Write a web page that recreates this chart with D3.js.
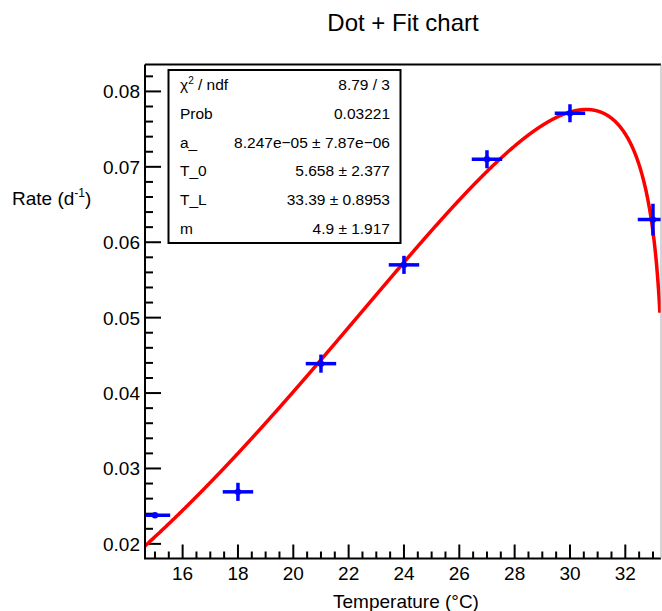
<!DOCTYPE html>
<html>
<head>
<meta charset="utf-8">
<script src="https://cdn.jsdelivr.net/npm/d3@7"></script>
<style>
  body { margin: 0; background: #fff; }
  text { font-family: "Liberation Sans", Arial, Helvetica, sans-serif; }
</style>
</head>
<body>
<div id="chart"></div>
<script>
const width = 662, height = 611;

// measured points
const temps = [15, 18, 21, 24, 27, 30, 33];
const rates = [0.0238, 0.0269, 0.0439, 0.0570, 0.0710, 0.0771, 0.0630];
const tempErr = [0.55, 0.55, 0.55, 0.55, 0.55, 0.55, 0.55];
const rateErr = [0.0003, 0.0012, 0.0012, 0.0012, 0.0012, 0.0012, 0.0021];

// fit result (Briere-like: a*T*(T-T_0)*(T_L-T)^(1/m))
const fitNames = ["a_", "T_0", "T_L", "m"];
const fitValues = [8.247e-05, 5.658, 33.39, 4.9];
const fitErrors = ["7.87e\u221206", "2.377", "0.8953", "1.917"];
const fitShown = ["8.247e\u221205", "5.658", "33.39", "4.9"];
const fitRange = [14.6, 33.25];

const statsLabels = ["\u03c7\u00b2 / ndf", "Prob"].concat(fitNames);
const statsValues = ["8.79 / 3", "0.03221"].concat(fitShown.map((v, i) => v + " \u00b1 " + fitErrors[i]));

// axis ranges and ticks
const xRange = [14.64, 33.29];
const yRange = [0.01806, 0.08357];
const xMajor = [16, 18, 20, 22, 24, 26, 28, 30, 32];
const yMajor = [0.02, 0.03, 0.04, 0.05, 0.06, 0.07, 0.08];

const frame = { left: 145, right: 661, top: 64.5, bottom: 558.5 };

const x = d3.scaleLinear().domain(xRange).range([frame.left, frame.right]);
const y = d3.scaleLinear().domain(yRange).range([frame.bottom, frame.top]);

const svg = d3.select("#chart").append("svg")
  .attr("width", width)
  .attr("height", height);

svg.append("defs").append("clipPath").attr("id", "plotclip")
  .append("rect")
  .attr("x", frame.left).attr("y", frame.top)
  .attr("width", frame.right - frame.left).attr("height", frame.bottom - frame.top);

// title
svg.append("text")
  .attr("x", 403).attr("y", 31)
  .attr("text-anchor", "middle")
  .attr("font-size", 24)
  .text("Dot + Fit chart");

// ticks (ROOT style: inside the frame)
const xMinor = d3.range(15, 33.01, 0.5).filter(v => !xMajor.includes(v));
const yMinor = d3.range(0.02, 0.0836, 0.002).map(v => +v.toFixed(3)).filter(v => !yMajor.includes(v));

const ticks = svg.append("g").attr("stroke", "#000").attr("stroke-width", 2);
ticks.selectAll(".xt").data(xMajor.map(v => [v, 14]).concat(xMinor.map(v => [v, 7])))
  .enter().append("line")
  .attr("x1", d => x(d[0])).attr("x2", d => x(d[0]))
  .attr("y1", frame.bottom).attr("y2", d => frame.bottom - d[1]);
ticks.selectAll(".yt").data(yMajor.map(v => [v, 16]).concat(yMinor.map(v => [v, 8])))
  .enter().append("line")
  .attr("y1", d => y(d[0])).attr("y2", d => y(d[0]))
  .attr("x1", frame.left).attr("x2", d => frame.left + d[1]);

// tick labels
svg.append("g").selectAll("text").data(xMajor).enter().append("text")
  .attr("x", d => x(d)).attr("y", 580)
  .attr("text-anchor", "middle").attr("font-size", 19)
  .text(d => d);
svg.append("g").selectAll("text").data(yMajor).enter().append("text")
  .attr("x", 140).attr("y", d => y(d) + 7)
  .attr("text-anchor", "end").attr("font-size", 19)
  .text(d => d3.format(".2f")(d));

// axis titles
svg.append("text")
  .attr("x", 406).attr("y", 608)
  .attr("text-anchor", "middle").attr("font-size", 19)
  .text("Temperature (\u00b0C)");
const yt = svg.append("text")
  .attr("x", 12).attr("y", 205)
  .attr("font-size", 19);
yt.append("tspan").text("Rate (d");
yt.append("tspan").attr("font-size", 12).attr("dy", -8).text("-1");
yt.append("tspan").attr("dy", 8).text(")");

// fit curve
const fitFn = t => {
  const [a, t0, tl, m] = fitValues;
  return a * t * (t - t0) * Math.pow(tl - t, 1 / m);
};
const curvePts = d3.range(fitRange[0], fitRange[1], 0.01).map(t => [t, fitFn(t)]);
curvePts.push([fitRange[1], fitFn(fitRange[1])]);

const plot = svg.append("g").attr("clip-path", "url(#plotclip)");
plot.append("path")
  .datum(curvePts)
  .attr("fill", "none")
  .attr("stroke", "#ff0000")
  .attr("stroke-width", 3.5)
  .attr("d", d3.line().x(d => x(d[0])).y(d => y(d[1])));

// points with error bars
const pts = temps.map((t, i) => ({ t: t, r: rates[i], et: tempErr[i], er: rateErr[i] }));
const pg = plot.append("g").attr("stroke", "#0000ff").attr("stroke-width", 3.5);
pg.selectAll(".ex").data(pts).enter().append("line")
  .attr("x1", d => x(d.t - d.et)).attr("x2", d => x(d.t + d.et))
  .attr("y1", d => y(d.r)).attr("y2", d => y(d.r));
pg.selectAll(".ey").data(pts).enter().append("line")
  .attr("x1", d => x(d.t)).attr("x2", d => x(d.t))
  .attr("y1", d => y(d.r - d.er)).attr("y2", d => y(d.r + d.er));
plot.selectAll(".mk").data(pts).enter().append("circle")
  .attr("cx", d => x(d.t)).attr("cy", d => y(d.r))
  .attr("r", 3.2).attr("fill", "#0000ff");

// frame
svg.append("path")
  .attr("d", `M${frame.left},${frame.top}V${frame.bottom}H${frame.right}`)
  .attr("fill", "none").attr("stroke", "#000").attr("stroke-width", 2);
svg.append("line")
  .attr("x1", frame.left).attr("x2", frame.right)
  .attr("y1", frame.top).attr("y2", frame.top)
  .attr("stroke", "#000").attr("stroke-width", 2);
svg.append("line")
  .attr("x1", frame.right).attr("x2", frame.right)
  .attr("y1", frame.top).attr("y2", frame.bottom)
  .attr("stroke", "#aaa").attr("stroke-width", 1);

// stats box
const box = { x: 168.5, y: 70, w: 232, h: 173 };
const stats = svg.append("g");
stats.append("rect")
  .attr("x", box.x).attr("y", box.y).attr("width", box.w).attr("height", box.h)
  .attr("fill", "#fff").attr("stroke", "#000").attr("stroke-width", 2);
const rowH = box.h / statsLabels.length;
const rows = stats.selectAll(".row").data(statsLabels).enter().append("g")
  .attr("transform", (d, i) => `translate(0,${box.y + rowH * (i + 0.5) + 5.5})`);
rows.append("text")
  .attr("x", 180).attr("font-size", 15.5)
  .each(function(d) {
    const t = d3.select(this);
    if (d.startsWith("\u03c7")) {
      t.append("tspan").text("\u03c7");
      t.append("tspan").attr("font-size", 10).attr("dy", -6).text("2");
      t.append("tspan").attr("dy", 6).text(" / ndf");
    } else {
      t.text(d);
    }
  });
rows.append("text")
  .attr("x", 390).attr("font-size", 15.5).attr("text-anchor", "end")
  .text((d, i) => statsValues[i]);
</script>
</body>
</html>
